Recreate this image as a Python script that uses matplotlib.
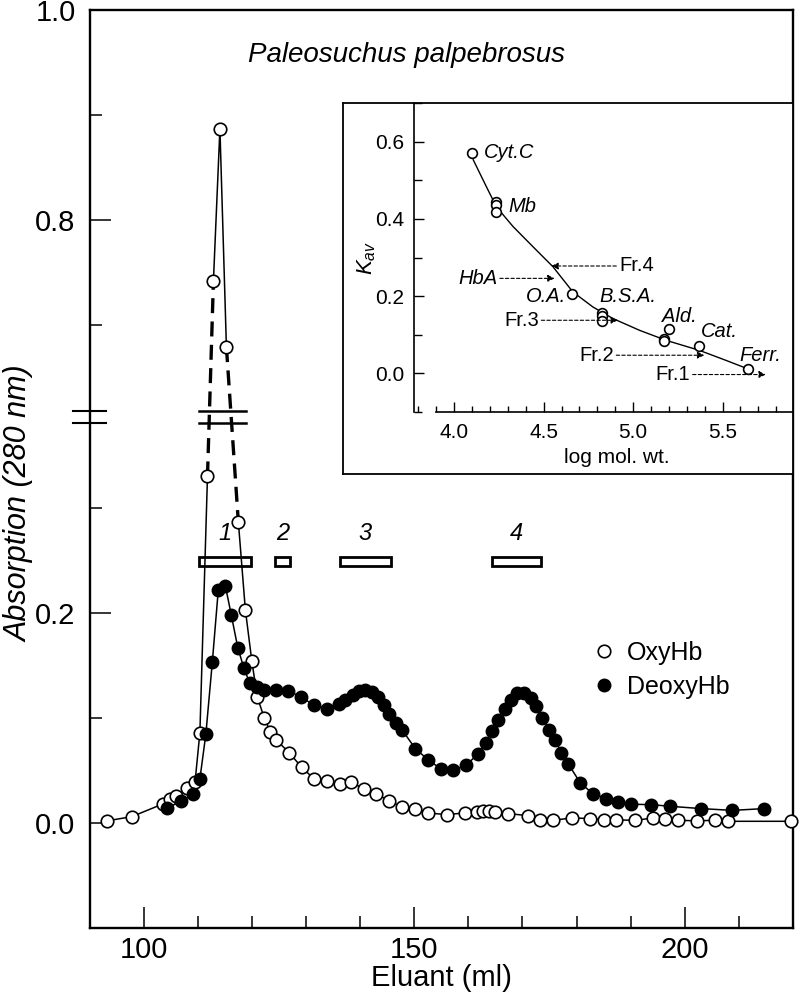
import numpy as np
import matplotlib
matplotlib.use('Agg')
import matplotlib.pyplot as plt
from matplotlib.lines import Line2D
from matplotlib.ticker import MultipleLocator, FixedLocator

plt.rcParams['font.family'] = ['Liberation Sans', 'DejaVu Sans']
plt.rcParams['mathtext.fontset'] = 'custom'
plt.rcParams['mathtext.it'] = 'Liberation Sans:italic'
plt.rcParams['mathtext.rm'] = 'Liberation Sans'

# elution profile, OxyHb (open circles)
oxy_ml = [93.2, 97.8, 103.5, 104.8, 106.0, 108.1, 109.5, 110.4, 111.8, 112.9,
          114.1, 115.3, 117.5, 118.8, 120.0, 121.0, 122.3, 123.4, 124.5, 126.9,
          129.2, 131.5, 133.8, 136.2, 138.4, 140.8, 142.9, 145.4, 147.8, 150.1,
          152.6, 156.0, 159.3, 161.6, 162.8, 163.9, 165.0, 167.3, 171.0, 173.3,
          175.6, 179.1, 182.5, 185.0, 187.2, 190.8, 194.2, 196.3, 198.8, 202.2,
          205.6, 208.0, 219.6]
oxy_abs = [0.002, 0.006, 0.018, 0.023, 0.026, 0.033, 0.039, 0.086, 0.330, 0.742,
           0.887, 0.679, 0.287, 0.203, 0.154, 0.120, 0.100, 0.087, 0.079, 0.067,
           0.053, 0.042, 0.040, 0.0375, 0.039, 0.032, 0.028, 0.021, 0.015, 0.0137,
           0.0095, 0.008, 0.0095, 0.0105, 0.011, 0.011, 0.0105, 0.009, 0.007, 0.003,
           0.0025, 0.0048, 0.0042, 0.003, 0.003, 0.0025, 0.0048, 0.004, 0.0026, 0.002,
           0.0026, 0.0016, 0.0016]
# segments across the axis break are dashed (index pairs)
dashed_pairs = [(8, 9), (11, 12)]

# DeoxyHb (filled circles)
deoxy_ml = [104.4, 106.9, 109.2, 110.4, 111.5, 112.7, 113.8, 115.1, 116.2, 117.4,
            118.5, 119.6, 121.0, 122.2, 124.4, 126.7, 129.1, 131.5, 133.8, 136.1,
            137.3, 138.6, 139.8, 141.0, 142.2, 143.3, 144.4, 145.4, 146.7, 147.8,
            150.2, 152.6, 154.9, 157.2, 159.6, 161.7, 163.2, 164.3, 165.5, 166.7,
            167.8, 169.0, 170.2, 171.5, 172.5, 173.6, 175.0, 176.1, 177.2, 178.5,
            180.7, 183.0, 185.4, 187.7, 190.1, 193.7, 197.3, 203.0, 208.8, 214.7]
deoxy_abs = [0.0147, 0.021, 0.0273, 0.042, 0.0845, 0.1534, 0.222, 0.226, 0.198, 0.167,
             0.148, 0.1333, 0.1295, 0.127, 0.127, 0.126, 0.120, 0.112, 0.109, 0.1137,
             0.117, 0.122, 0.126, 0.127, 0.125, 0.120, 0.1126, 0.104, 0.095, 0.0883,
             0.0709, 0.060, 0.0517, 0.050, 0.055, 0.0653, 0.0762, 0.0876, 0.0984, 0.109,
             0.117, 0.1233, 0.1233, 0.1187, 0.111, 0.1003, 0.089, 0.0788, 0.0668, 0.056,
             0.0381, 0.028, 0.0233, 0.020, 0.0178, 0.0175, 0.0159, 0.0137, 0.012, 0.0137]

# pooled fractions
frac_labels = ['1', '2', '3', '4']
frac_start = [110.2, 124.2, 136.2, 164.3]
frac_end = [119.8, 127.1, 145.7, 173.4]

# calibration inset: standards
std_logmw = [4.102, 4.236, 4.236, 4.236, 4.660, 4.825, 4.825, 4.825,
             5.175, 5.175, 5.203, 5.370, 5.645]
std_kav = [0.571, 0.444, 0.436, 0.418, 0.205, 0.157, 0.148, 0.136,
           0.090, 0.085, 0.116, 0.070, 0.012]
# calibration curve as drawn
curve_logmw = [4.106, 4.180, 4.236, 4.329, 4.440, 4.552, 4.663, 4.775,
               4.887, 5.036, 5.184, 5.370, 5.519, 5.640]
curve_kav = [0.553, 0.483, 0.431, 0.380, 0.328, 0.276, 0.211, 0.172,
             0.142, 0.1115, 0.0856, 0.0597, 0.0337, 0.012]
# fractions read against the curve: (label, kav, arrow tail, arrow head)
arrow_labels = ['Fr.1', 'Fr.2', 'Fr.3', 'Fr.4', 'HbA']
arrow_kav = [-0.003, 0.047, 0.1375, 0.278, 0.246]
arrow_from = [5.333, 4.906, 4.487, 4.906, 4.255]
arrow_to = [5.742, 5.398, 4.915, 4.543, 4.561]

# broken y axis
brk_lo, brk_hi = 0.386, 0.612
gap = brk_hi - brk_lo
eps = 1e-4
fx = [-10, brk_lo, brk_hi, 10]
fy = [-10, brk_lo, brk_lo + eps, 10 - gap + eps]


def fwd(v):
    return np.interp(v, fx, fy)


def inv(u):
    return np.interp(u, fy, fx)


fig = plt.figure(figsize=(8, 10.02), dpi=100)
ax = fig.add_axes([89.5 / 800, 1 - 928 / 1002, (793 - 89.5) / 800, (928 - 10) / 1002])
ax.set_yscale('function', functions=(fwd, inv))
ax.set_xlim(90, 220)
ax.set_ylim(-0.1, 1.0)

ox = np.array(oxy_ml)
oy = np.array(oxy_abs)
cuts = [0]
for a, b in dashed_pairs:
    cuts += [a, b]
cuts.append(len(ox) - 1)
for i in range(0, len(cuts), 2):
    s, e = cuts[i], cuts[i + 1]
    ax.plot(ox[s:e + 1], oy[s:e + 1], color='k', lw=1.1, zorder=2)
for a, b in dashed_pairs:
    ax.plot(ox[[a, b]], oy[[a, b]], color='k', lw=2.4, dashes=(4.5, 2.5), zorder=2)
ax.plot(deoxy_ml, deoxy_abs, color='k', lw=1.1, zorder=2)
ax.plot(ox, oy, 'o', ms=9, mfc='white', mec='k', mew=1.2, zorder=3, clip_on=False)
ax.plot(deoxy_ml, deoxy_abs, 'o', ms=9, mfc='k', mec='k', mew=1.0, zorder=4)

# fraction bars
for lab, s, e in zip(frac_labels, frac_start, frac_end):
    ax.bar((s + e) / 2, 0.0086, width=e - s, bottom=0.2443, fill=False,
           edgecolor='k', lw=2.0, zorder=5)
    ax.text((s + e) / 2, 0.276, lab, ha='center', va='center', fontsize=17,
            style='italic')

# break marks
mark_lo, mark_hi = 0.381, 0.6184
for yv in (mark_lo, mark_hi):
    ax.plot([-0.024, 0.024], [yv, yv], color='k', lw=1.5,
            transform=ax.get_yaxis_transform(), clip_on=False, zorder=6)
    ax.plot([110.2, 119.0], [yv, yv], color='k', lw=1.8, zorder=6)

ax.yaxis.set_major_locator(FixedLocator([0.0, 0.2, 0.8, 1.0]))
ax.yaxis.set_minor_locator(FixedLocator([0.1, 0.3, 0.7, 0.9]))
ax.yaxis.set_major_formatter(matplotlib.ticker.FormatStrFormatter('%.1f'))
ax.xaxis.set_major_locator(FixedLocator([100, 150, 200]))
ax.xaxis.set_minor_locator(MultipleLocator(10))
ax.tick_params(which='both', direction='in', width=1.1, labelsize=21)
ax.tick_params(which='major', length=15)
ax.tick_params(which='minor', length=8.5)
ax.tick_params(axis='y', pad=10)
ax.tick_params(axis='x', pad=6)
for sp in ax.spines.values():
    sp.set_linewidth(1.7)

ax.set_xlabel('Eluant (ml)', fontsize=21, va='center')
ax.xaxis.set_label_coords(0.5, -0.055)
ax.set_ylabel('Absorption (280 nm)', fontsize=22, style='italic', va='center')
ax.yaxis.set_label_coords(-0.1, 0.462)
ax.text(0.451, 0.951, 'Paleosuchus palpebrosus', transform=ax.transAxes,
        ha='center', va='center', fontsize=20, style='italic')

h_oxy = Line2D([], [], ls='none', marker='o', ms=9, mfc='white', mec='k', mew=1.2)
h_deoxy = Line2D([], [], ls='none', marker='o', ms=9, mfc='k', mec='k')
ax.legend([h_oxy, h_deoxy], ['OxyHb', 'DeoxyHb'], loc='center left',
          bbox_to_anchor=(0.713, 0.281), frameon=False, fontsize=18,
          handlelength=1.0, handletextpad=0.45, labelspacing=0.4, borderpad=0,
          borderaxespad=0)

# inset box
box = fig.add_axes([343 / 800, 1 - 474 / 1002, (793 - 343) / 800, (474 - 103) / 1002])
box.set_xticks([])
box.set_yticks([])
for sp in box.spines.values():
    sp.set_linewidth(1.3)

ins = fig.add_axes([414 / 800, 1 - 412 / 1002, (793 - 414) / 800, (412 - 103) / 1002])
ins.patch.set_visible(False)
ins.set_xlim(3.775, 5.894)
ins.set_ylim(-0.1, 0.70)
ins.spines['top'].set_visible(False)
ins.spines['right'].set_visible(False)
ins.spines['left'].set_linewidth(1.2)
ins.spines['bottom'].set_linewidth(1.2)
ins.spines['bottom'].set_bounds(3.9, 5.894)
ins.xaxis.set_major_locator(FixedLocator([4.0, 4.5, 5.0, 5.5]))
ins.xaxis.set_minor_locator(MultipleLocator(0.1))
ins.yaxis.set_major_locator(FixedLocator([0.0, 0.2, 0.4, 0.6]))
ins.yaxis.set_minor_locator(MultipleLocator(0.1))
ins.xaxis.set_major_formatter(matplotlib.ticker.FormatStrFormatter('%.1f'))
ins.yaxis.set_major_formatter(matplotlib.ticker.FormatStrFormatter('%.1f'))
ins.tick_params(which='both', direction='in', width=1.0, labelsize=15)
ins.tick_params(axis='x', which='major', length=7, pad=8)
ins.tick_params(axis='x', which='minor', length=4)
ins.tick_params(axis='y', which='major', length=7, pad=7)
ins.tick_params(axis='y', which='minor', length=6)

ins.plot(curve_logmw, curve_kav, color='k', lw=1.0, zorder=2)
ins.plot(std_logmw, std_kav, 'o', ms=7, mfc='white', mec='k', mew=1.2, zorder=3)

for lab, kv, x0, x1 in zip(arrow_labels, arrow_kav, arrow_from, arrow_to):
    ins.annotate('', xy=(x1, kv), xytext=(x0, kv),
                 arrowprops=dict(arrowstyle='-|>', color='k', lw=0.8,
                                 linestyle=(0, (3, 2)), mutation_scale=10,
                                 shrinkA=0, shrinkB=0))
    if x1 > x0:
        ins.text(x0 - 0.015, kv, lab, ha='right', va='center', fontsize=14.5,
                 style='italic' if lab == 'HbA' else 'normal')
    else:
        ins.text(x0 + 0.015, kv, lab, ha='left', va='center', fontsize=14.5)

std_names = ['Cyt.C', 'Mb', 'O.A.', 'B.S.A.', 'Ald.', 'Cat.', 'Ferr.']
name_x = [4.165, 4.301, 4.627, 4.812, 5.162, 5.380, 5.593]
name_y = [0.571, 0.433, 0.198, 0.198, 0.148, 0.109, 0.047]
name_ha = ['left', 'left', 'right', 'left', 'left', 'left', 'left']
for n, x, y, ha in zip(std_names, name_x, name_y, name_ha):
    ins.text(x, y, n, ha=ha, va='center', fontsize=14.5, style='italic')

ins.set_xlabel('log mol. wt.', fontsize=15, va='center')
ins.xaxis.set_label_coords(0.536, -0.146)
ins.set_ylabel('$K_{av}$', fontsize=16, va='center')
ins.yaxis.set_label_coords(-0.124, 0.50)

fig.savefig('out.png', dpi=100)
